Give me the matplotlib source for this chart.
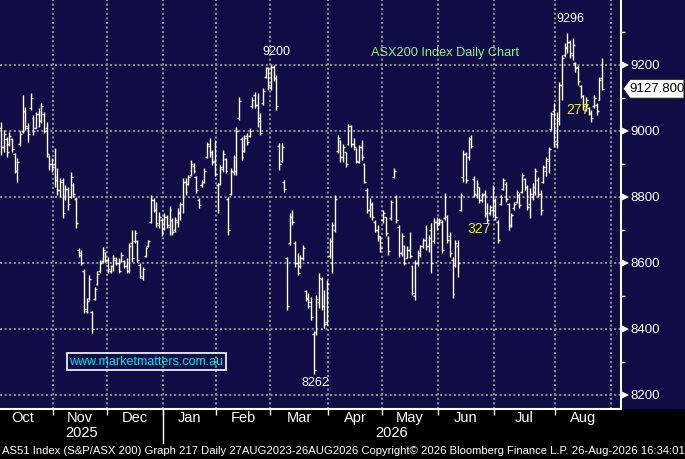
import numpy as np
import pandas as pd
import matplotlib
matplotlib.use('Agg')
import matplotlib.pyplot as plt
import matplotlib.transforms as mtransforms
from matplotlib import font_manager as fm
from matplotlib.patches import Polygon, Rectangle

# ASX trading calendar (holidays removed) - x axis is trading days
holidays = ['2025-12-25', '2025-12-26', '2026-01-01', '2026-01-26',
            '2026-04-03', '2026-04-06', '2026-06-08']
days = pd.bdate_range('2025-10-01', '2026-08-31', freq='C', holidays=holidays)
first_bar = pd.Timestamp('2025-10-06')

# daily OHLC, one row per month (Oct..Aug)
opens = [
    9010, 8950, 8975, 8960, 8975, 8930, 8880, 8960, 9000, 9060, 9010, 9070, 9040, 9010, 9050, 9030, 9050, 9010, 8920, 8900,
    8900, 8860, 8820, 8850, 8800, 8825, 8800, 8835, 8795, 8640, 8630, 8575, 8455, 8495, 8450, 8490, 8535, 8575, 8605, 8630,
    8610, 8575, 8590, 8610, 8600, 8605, 8605, 8590, 8575, 8660, 8665, 8665, 8595, 8555, 8620, 8650, 8725, 8790, 8760, 8715, 8730,
    8705, 8740, 8710, 8730, 8700, 8725, 8750, 8780, 8845, 8840, 8865, 8895, 8860, 8790, 8835, 8845, 8920, 8955, 8935, 8910,
    8835, 8840, 8885, 8915, 8795, 8810, 8875, 8880, 9040, 8975, 8940, 8985, 8985, 9075, 9110, 9080, 9040, 9085, 9165, 9190,
    9130, 9195, 9160, 8955, 8910, 8845, 8615, 8660, 8740, 8660, 8600, 8590, 8615, 8515, 8495, 8480, 8385, 8390, 8480, 8550, 8470, 8420,
    8620, 8600, 8700, 8940, 8970, 8920, 8935, 8960, 9015, 8960, 8945, 8905, 8950, 8900, 8820, 8760, 8780, 8725, 8700, 8675,
    8730, 8740, 8675, 8735, 8860, 8800, 8710, 8630, 8650, 8615, 8640, 8590, 8500, 8600, 8625, 8650, 8670, 8650, 8700, 8665, 8725,
    8720, 8725, 8735, 8740, 8680, 8610, 8595, 8650, 8760, 8860, 8930, 8920, 8975, 8855, 8805, 8830, 8790, 8810, 8750, 8750, 8760,
    8790, 8725, 8780, 8825, 8840, 8780, 8715, 8765, 8785, 8805, 8815, 8855, 8830, 8780, 8800, 8815, 8850, 8810, 8845, 8880, 8910, 9005, 9060,
    8960, 9030, 9140, 9230, 9250, 9270, 9230, 9205, 9195, 9135, 9105, 9065, 9070, 9055, 9075, 9080, 9095, 9160,
]
highs = [
    9028, 9003, 8983, 8998, 8978, 8932, 8917, 9000, 9109, 9074, 9023, 9114, 9048, 9058, 9069, 9084, 9058, 9028, 8927, 8917,
    8947, 8887, 8857, 8857, 8836, 8831, 8877, 8841, 8801, 8644, 8639, 8581, 8493, 8564, 8453, 8528, 8574, 8610, 8649, 8634,
    8619, 8594, 8624, 8619, 8614, 8634, 8609, 8614, 8660, 8700, 8700, 8670, 8599, 8589, 8649, 8670, 8806, 8796, 8786, 8755, 8735,
    8750, 8745, 8771, 8735, 8740, 8765, 8786, 8857, 8857, 8867, 8912, 8902, 8862, 8796, 8851, 8887, 8968, 8978, 8943, 8973,
    8841, 8897, 8942, 8917, 8801, 8887, 8927, 9013, 9104, 8983, 8988, 8993, 9008, 9104, 9119, 9114, 9054, 9129, 9195, 9195,
    9200, 9200, 9170, 8963, 8963, 8852, 8619, 8750, 8760, 8665, 8629, 8624, 8654, 8518, 8508, 8498, 8392, 8503, 8568, 8558, 8518, 8548,
    8675, 8725, 8806, 8988, 8973, 8960, 8937, 9021, 9018, 8978, 8947, 8957, 8973, 8902, 8826, 8796, 8786, 8730, 8715, 8680,
    8760, 8740, 8680, 8791, 8887, 8806, 8715, 8690, 8655, 8650, 8695, 8594, 8609, 8640, 8655, 8675, 8715, 8685, 8720, 8735, 8740,
    8735, 8730, 8811, 8745, 8695, 8619, 8670, 8670, 8811, 8942, 8937, 8983, 8988, 8862, 8851, 8831, 8811, 8821, 8781, 8776, 8836,
    8796, 8730, 8806, 8856, 8846, 8781, 8751, 8786, 8821, 8811, 8872, 8856, 8836, 8826, 8841, 8887, 8860, 8821, 8897, 8922, 8952, 9058, 9084,
    9058, 9149, 9230, 9266, 9296, 9276, 9281, 9210, 9200, 9140, 9109, 9104, 9074, 9064, 9109, 9084, 9165, 9220,
]
lows = [
    8927, 8937, 8922, 8953, 8937, 8872, 8846, 8953, 8993, 9003, 8968, 9064, 8988, 9008, 9013, 9023, 8993, 8922, 8882, 8877,
    8831, 8806, 8801, 8735, 8791, 8760, 8796, 8801, 8705, 8619, 8594, 8447, 8447, 8488, 8387, 8488, 8533, 8570, 8599, 8604,
    8569, 8569, 8574, 8594, 8569, 8604, 8584, 8569, 8569, 8604, 8660, 8604, 8553, 8549, 8619, 8649, 8720, 8755, 8710, 8705, 8680,
    8700, 8705, 8685, 8685, 8695, 8710, 8730, 8750, 8806, 8836, 8862, 8872, 8811, 8765, 8831, 8841, 8917, 8922, 8897, 8862,
    8751, 8836, 8877, 8872, 8685, 8806, 8867, 8867, 9033, 8912, 8937, 8958, 8983, 9070, 9069, 9013, 8988, 9079, 9160, 9124,
    9124, 9150, 9064, 8882, 8907, 8816, 8458, 8654, 8715, 8589, 8564, 8584, 8609, 8483, 8463, 8427, 8262, 8382, 8463, 8458, 8402, 8412,
    8614, 8569, 8695, 8932, 8907, 8907, 8892, 8958, 8952, 8942, 8902, 8902, 8912, 8841, 8750, 8740, 8730, 8695, 8665, 8634,
    8720, 8680, 8624, 8730, 8856, 8720, 8619, 8620, 8594, 8614, 8614, 8503, 8488, 8590, 8619, 8645, 8640, 8634, 8569, 8660, 8700,
    8715, 8629, 8730, 8660, 8619, 8493, 8589, 8558, 8756, 8846, 8841, 8912, 8947, 8801, 8796, 8781, 8786, 8740, 8720, 8745, 8740,
    8730, 8660, 8776, 8821, 8786, 8700, 8710, 8761, 8781, 8766, 8811, 8821, 8761, 8735, 8791, 8806, 8800, 8745, 8841, 8862, 8872, 9003, 8952,
    8947, 9018, 9094, 9225, 9235, 9220, 9215, 9180, 9140, 9099, 9064, 9059, 9049, 9028, 9069, 9048, 9094, 9124,
]
closes = [
    8950, 8990, 8935, 8985, 8945, 8880, 8905, 8990, 9060, 9015, 8990, 9100, 9000, 9050, 9030, 9075, 9000, 8930, 8900, 8890,
    8850, 8820, 8845, 8750, 8825, 8780, 8860, 8810, 8720, 8625, 8600, 8460, 8485, 8550, 8400, 8520, 8565, 8600, 8640, 8610,
    8580, 8590, 8615, 8600, 8575, 8625, 8590, 8575, 8650, 8615, 8690, 8610, 8560, 8580, 8645, 8665, 8790, 8760, 8720, 8740, 8695,
    8740, 8715, 8760, 8695, 8730, 8755, 8780, 8845, 8815, 8860, 8900, 8880, 8820, 8775, 8845, 8880, 8960, 8930, 8905, 8870,
    8760, 8890, 8930, 8880, 8700, 8880, 8920, 9000, 9090, 8920, 8980, 8965, 9000, 9095, 9080, 9030, 8995, 9120, 9190, 9140,
    9195, 9160, 9075, 8900, 8950, 8825, 8470, 8740, 8725, 8600, 8570, 8615, 8645, 8490, 8470, 8435, 8275, 8490, 8555, 8470, 8415, 8535,
    8665, 8715, 8795, 8980, 8920, 8950, 8900, 9015, 8960, 8950, 8910, 8950, 8920, 8845, 8760, 8780, 8740, 8700, 8680, 8645,
    8750, 8690, 8635, 8785, 8880, 8730, 8630, 8680, 8600, 8640, 8620, 8510, 8600, 8630, 8650, 8670, 8650, 8675, 8600, 8725, 8715,
    8730, 8640, 8800, 8670, 8630, 8505, 8660, 8600, 8805, 8930, 8850, 8975, 8955, 8810, 8840, 8790, 8805, 8750, 8730, 8770, 8825,
    8740, 8670, 8800, 8850, 8795, 8710, 8745, 8780, 8815, 8775, 8865, 8830, 8770, 8810, 8830, 8880, 8810, 8760, 8890, 8915, 8945, 9050, 8970,
    9040, 9140, 9220, 9255, 9270, 9235, 9260, 9190, 9150, 9105, 9075, 9095, 9055, 9040, 9100, 9060, 9155, 9127.8,
]

month_names = ['Oct', 'Nov', 'Dec', 'Jan', 'Feb', 'Mar', 'Apr', 'May', 'Jun', 'Jul', 'Aug']
price_ticks = [8200, 8400, 8600, 8800, 9000, 9200]
footer = ('AS51 Index (S&P/ASX 200) Graph 217 Daily 27AUG2023-26AUG2026 '
          'Copyright\u00a9 2026 Bloomberg Finance L.P. 26-Aug-2026 16:34:01')

names = {f.name for f in fm.fontManager.ttflist}
SANS = 'Liberation Sans' if 'Liberation Sans' in names else 'DejaVu Sans'
NARROW = 'Liberation Sans Narrow' if 'Liberation Sans Narrow' in names else SANS

NAVY = '#0f0c46'
GRID = '#8c8c8c'

x0 = days.get_loc(first_bar)
x = np.arange(x0, x0 + len(closes))
o, h, l, c = (np.array(v, dtype=float) for v in (opens, highs, lows, closes))

fig = plt.figure(figsize=(6.85, 4.59), dpi=100, facecolor='black')
W, H = 685, 459
# navy strip behind the right-hand price scale (drawn under the axes)
fig.patches.append(Rectangle((621 / W, 1 - 409 / H), 1 - 621 / W, 409 / H,
                             transform=fig.transFigure, fc=NAVY, ec='none', zorder=-5))
ax = fig.add_axes([0, 1 - 409 / H, 621 / W, 409 / H])
ax.set_facecolor(NAVY)
ax.set_xlim(2.5, 235.1)
ax.set_ylim(8157, 9397)

# month boundaries on the trading-day axis
mstart = [0] + [i for i in range(1, len(days)) if days[i].month != days[i - 1].month]
bounds = [s - 0.5 for s in mstart] + [len(days) - 0.5]

for v in price_ticks:
    ax.axhline(v, color=GRID, lw=1.5, ls=(0, (1, 1.2)), zorder=1)
for b in bounds[1:]:
    ax.axvline(b, color=GRID, lw=1.5, ls=(0, (1, 1.2)), zorder=1)

# OHLC bars
ax.vlines(x, l, h, color='white', lw=1.0, zorder=3)
ax.hlines(o, x - 0.7, x, color='white', lw=1.0, zorder=3)
ax.hlines(c, x, x + 0.7, color='white', lw=1.0, zorder=3)

for s in ['left', 'top']:
    ax.spines[s].set_visible(False)
for s in ['right', 'bottom']:
    ax.spines[s].set_color('white')
    ax.spines[s].set_linewidth(1.5)

# x axis: ticks at month boundaries, labels in the middle
ax.set_xticks(bounds[1:-1])
ax.set_xticklabels([])
ax.tick_params(axis='x', which='major', direction='out', length=4, width=1, color='white')
btrans = mtransforms.blended_transform_factory(ax.transData, ax.transAxes)
for i, name in enumerate(month_names):
    mid = (bounds[i] + bounds[i + 1]) / 2
    ax.text(mid, -0.022, name, transform=btrans, ha='center', va='center',
            color='white', fontsize=10.5, family=NARROW, clip_on=False)
jan = bounds[3]
ax.text((ax.get_xlim()[0] + jan) / 2, -0.059, '2025', transform=btrans, ha='center',
        va='center', color='white', fontsize=10.5, family=NARROW)
ax.text((jan + ax.get_xlim()[1]) / 2, -0.059, '2026', transform=btrans, ha='center',
        va='center', color='white', fontsize=10.5, family=NARROW)
ax.plot([jan, jan], [0, -0.082], transform=btrans, color='white', lw=1, clip_on=False)

# y axis on the right with triangle markers
ax.yaxis.tick_right()
ax.set_yticks(price_ticks)
ax.set_yticklabels([str(v) for v in price_ticks], color='white', fontsize=9.5, family=SANS)
ax.set_yticks(np.arange(8300, 9400, 200), minor=True)
ax.tick_params(axis='y', which='major', length=0, pad=7)
ax.tick_params(axis='y', which='minor', length=3, width=1, color='white', direction='out')
rtrans = mtransforms.blended_transform_factory(ax.transAxes, ax.transData) + \
    mtransforms.ScaledTranslation(4 / 100, 0, fig.dpi_scale_trans)
ax.plot([1] * len(price_ticks), price_ticks, '>', color='white', ms=5.5, mew=0,
        transform=rtrans, clip_on=False)

# last price tag
last = c[-1]
_, yp = ax.transData.transform((0, last))
tag = Polygon([(623, yp), (630, yp + 9.5), (684, yp + 9.5), (684, yp - 9.5), (630, yp - 9.5)],
              closed=True, fc='white', ec='#202020', lw=0.8, transform=None)
fig.patches.append(tag)
fig.text(657 / W, yp / H, f'{last:.3f}', ha='center', va='center', color='black',
         fontsize=9.5, family=SANS)

# annotations
ih = int(np.argmax(h))
ax.annotate(f'{h[ih]:.0f}', (x[ih], h[ih]), xytext=(3, 8), textcoords='offset pixels',
            ha='center', va='bottom', color='white', fontsize=9, family=SANS)
il = int(np.argmin(l))
ax.annotate(f'{l[il]:.0f}', (x[il], l[il]), xytext=(2, -3), textcoords='offset pixels',
            ha='center', va='top', color='white', fontsize=9, family=SANS)
feb = slice(90, 110)
ifb = int(np.argmax(h[feb])) + 90
ax.annotate(f'{h[ifb]:.0f}', (x[ifb], h[ifb]), xytext=(5, 7), textcoords='offset pixels',
            ha='center', va='bottom', color='white', fontsize=9, family=SANS)

ax.text(169.2, 9236, 'ASX200 Index Daily Chart', ha='center', va='center',
        color='#8cf08c', fontsize=9.2, family=SANS)
ax.text(181.9, 8703, '327', ha='center', va='center', color='#f0f000', fontsize=10, family=SANS)
ax.text(219.0, 9064, '277', ha='center', va='center', color='#f0f000', fontsize=10, family=SANS)
ax.text(57.2, 8301, 'www.marketmatters.com.au', ha='center', va='center', color='#00e6e6',
        fontsize=9, family=SANS,
        bbox=dict(boxstyle='square,pad=0.2', fc='none', ec='white', lw=1.2))

foot = fig.text(2 / W, 1 - 451 / H, footer, ha='left', va='center', color='white',
                fontsize=8, family=NARROW)
fig.canvas.draw()
w = foot.get_window_extent().width
foot.set_fontsize(8 * 681 / w)

fig.savefig('out.png', dpi=100, facecolor='black')
